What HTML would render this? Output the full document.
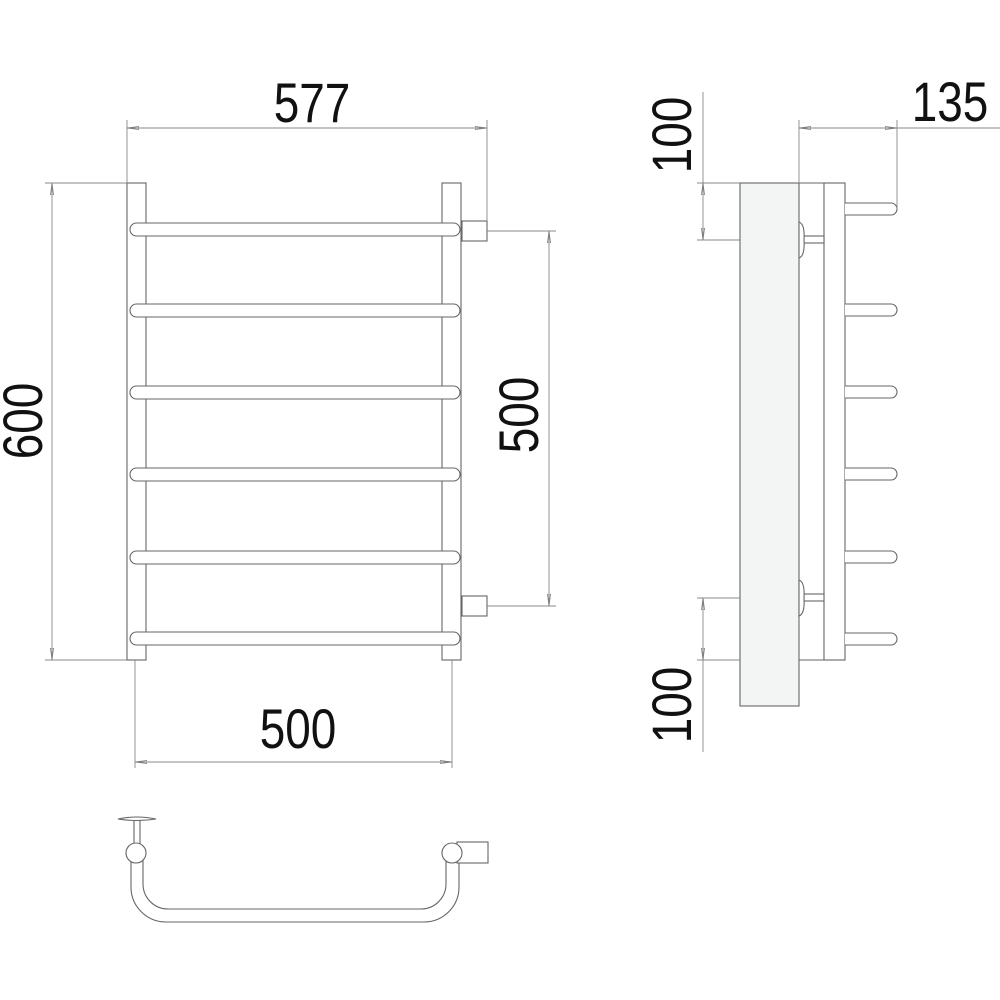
<!DOCTYPE html>
<html><head><style>
html,body{margin:0;padding:0;background:#fff}
svg{display:block}
text{font-family:"Liberation Sans",sans-serif;font-size:56px;fill:#111}
</style></head><body>
<svg width="1000" height="1000" viewBox="0 0 1000 1000" xmlns="http://www.w3.org/2000/svg">
<defs>
<marker id="a" viewBox="0 0 12 6" refX="12" refY="3" markerWidth="12" markerHeight="6" orient="auto-start-reverse" markerUnits="userSpaceOnUse">
<path d="M12,3 L0,1.5 L0,4.5 Z" fill="none" stroke="#777" stroke-width="0.8"/>
</marker>
</defs>
<g fill="none" stroke="#666" stroke-width="1.1">
<rect x="127" y="183" width="19" height="477"/>
<rect x="442" y="183" width="19" height="477"/>
<g fill="#fff">
<rect x="130" y="223" width="330" height="13" rx="6.5"/>
<rect x="130" y="304" width="330" height="13" rx="6.5"/>
<rect x="130" y="386" width="330" height="13" rx="6.5"/>
<rect x="130" y="468" width="330" height="13" rx="6.5"/>
<rect x="130" y="551" width="330" height="13" rx="6.5"/>
<rect x="130" y="632" width="330" height="13" rx="6.5"/>
</g>
<rect x="462" y="221" width="25" height="20"/>
<rect x="462" y="596" width="25" height="20"/>
</g>
<g stroke="#888" stroke-width="0.9" fill="none">
<line x1="127" y1="120" x2="127" y2="183"/>
<line x1="487" y1="120" x2="487" y2="221"/>
<line x1="127" y1="128" x2="487" y2="128" marker-start="url(#a)" marker-end="url(#a)"/>
<line x1="45" y1="183" x2="127" y2="183"/>
<line x1="45" y1="660" x2="127" y2="660"/>
<line x1="52" y1="183" x2="52" y2="660" marker-start="url(#a)" marker-end="url(#a)"/>
<line x1="487" y1="231" x2="556" y2="231"/>
<line x1="487" y1="606" x2="556" y2="606"/>
<line x1="549" y1="231" x2="549" y2="606" marker-start="url(#a)" marker-end="url(#a)"/>
<line x1="135" y1="660" x2="135" y2="768"/>
<line x1="452" y1="660" x2="452" y2="768"/>
<line x1="135" y1="762" x2="452" y2="762" marker-start="url(#a)" marker-end="url(#a)"/>
</g>
<text x="312" y="122" text-anchor="middle" transform="translate(312 0) scale(0.82 1) translate(-312 0)">577</text>
<text text-anchor="middle" transform="translate(42 421) rotate(-90) scale(0.82 1)">600</text>
<text text-anchor="middle" transform="translate(538 415) rotate(-90) scale(0.82 1)">500</text>
<text x="298" y="748" text-anchor="middle" transform="translate(298 0) scale(0.82 1) translate(-298 0)">500</text>
<g stroke="#666" stroke-width="1.1">
<rect x="740" y="183" width="59" height="523" fill="#f3f4f4"/>
<rect x="824" y="183" width="21" height="477" fill="#fff"/>
<path d="M799 183 H824 M799 660 H824" fill="none"/>
<g fill="#fff">
<path d="M845 203 H891 A6 6 0 0 1 891 215 H845"/>
<path d="M845 304 H891 A6 6 0 0 1 891 316 H845"/>
<path d="M845 386 H891 A6 6 0 0 1 891 398 H845"/>
<path d="M845 468 H891 A6 6 0 0 1 891 480 H845"/>
<path d="M845 551 H891 A6 6 0 0 1 891 563 H845"/>
<path d="M845 633 H891 A6 6 0 0 1 891 645 H845"/>
<rect x="803" y="236" width="21" height="7"/>
<rect x="803" y="594" width="21" height="7"/>
<path d="M799 222 Q805 224 804 240 Q805 256 799 258 Z"/>
<path d="M799 580 Q805 582 804 598 Q805 614 799 616 Z"/>
</g>
</g>
<g stroke="#888" stroke-width="0.9" fill="none">
<line x1="703" y1="92" x2="703" y2="183"/>
<line x1="697" y1="183" x2="740" y2="183"/>
<line x1="697" y1="240" x2="740" y2="240"/>
<line x1="703" y1="183" x2="703" y2="240" marker-start="url(#a)" marker-end="url(#a)"/>
<line x1="703" y1="660" x2="703" y2="752"/>
<line x1="697" y1="598" x2="740" y2="598"/>
<line x1="697" y1="660" x2="740" y2="660"/>
<line x1="703" y1="598" x2="703" y2="660" marker-start="url(#a)" marker-end="url(#a)"/>
<line x1="799" y1="120" x2="799" y2="183"/>
<line x1="897" y1="120" x2="897" y2="209"/>
<line x1="799" y1="128" x2="897" y2="128" marker-start="url(#a)" marker-end="url(#a)"/>
<line x1="897" y1="128" x2="1000" y2="128"/>
</g>
<text x="950" y="121" text-anchor="middle" transform="translate(950 0) scale(0.82 1) translate(-950 0)">135</text>
<text text-anchor="middle" transform="translate(691 135) rotate(-90) scale(0.82 1)">100</text>
<text text-anchor="middle" transform="translate(691 705) rotate(-90) scale(0.82 1)">100</text>
<g stroke="#666" stroke-width="1.1" fill="#fff">
<path d="M131 860 V887 A35 35 0 0 0 166 922 H424 A35 35 0 0 0 459 887 V860 M143 860 V884 A25 25 0 0 0 168 909 H421 A25 25 0 0 0 446 884 V860" fill="none"/>
<rect x="134" y="820" width="6" height="25"/>
<path d="M118 819 Q137 815 156 819 Q137 822 118 819 Z"/>
<rect x="457" y="842" width="31" height="21"/>
<circle cx="136" cy="853" r="10"/>
<circle cx="452" cy="853" r="10"/>
</g>
</svg>
</body></html>
